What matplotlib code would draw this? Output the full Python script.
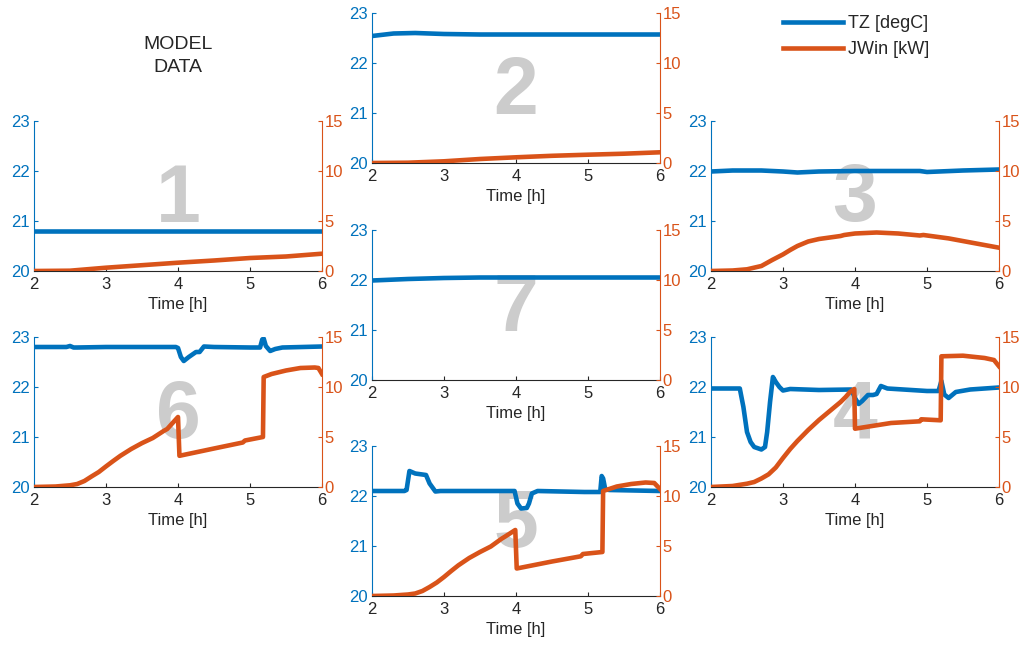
import matplotlib
matplotlib.use("Agg")
import matplotlib.pyplot as plt

plt.rcParams['font.family'] = ['Liberation Sans', 'DejaVu Sans']

BLUE = '#0072BD'
ORANGE = '#D95319'
DARK = '#262626'

# zone 1
t_tz1 = [2.0, 6.0]
tz1 = [20.8, 20.8]
t_jw1 = [2.0, 2.5, 3.0, 3.5, 4.0, 4.5, 5.0, 5.5, 6.0]
jw1 = [0.0, 0.03, 0.33, 0.58, 0.83, 1.05, 1.3, 1.45, 1.73]

# zone 2
t_tz2 = [2.0, 2.3, 2.6, 3.0, 3.5, 4.0, 5.0, 6.0]
tz2 = [22.54, 22.59, 22.6, 22.58, 22.57, 22.57, 22.57, 22.57]
t_jw2 = [2.0, 2.5, 3.0, 3.5, 4.0, 4.5, 5.0, 5.5, 6.0]
jw2 = [0.0, 0.03, 0.17, 0.4, 0.57, 0.72, 0.83, 0.93, 1.07]

# zone 3
t_tz3 = [2.0, 2.3, 2.7, 3.0, 3.2, 3.5, 4.0, 4.5, 4.9, 5.0, 5.5, 6.0]
tz3 = [21.99, 22.01, 22.01, 21.99, 21.97, 21.99, 22.0, 22.0, 22.0, 21.98, 22.01, 22.03]
t_jw3 = [2.0, 2.3, 2.5, 2.7, 2.85, 3.0, 3.1, 3.2, 3.35, 3.5, 3.8, 3.85,
         4.0, 4.3, 4.6, 4.9, 4.95, 5.3, 5.6, 6.0]
jw3 = [0.0, 0.05, 0.17, 0.5, 1.1, 1.66, 2.1, 2.5, 2.95, 3.2, 3.5, 3.6,
       3.75, 3.85, 3.75, 3.55, 3.6, 3.26, 2.86, 2.33]

# zone 4
t_tz4 = [2.0, 2.4, 2.45, 2.5, 2.55, 2.6, 2.7, 2.75, 2.78, 2.82, 2.86, 2.9,
         2.95, 3.0, 3.1, 3.5, 3.95, 4.0, 4.05, 4.1, 4.18, 4.25, 4.3, 4.36,
         4.45, 5.0, 5.16, 5.2, 5.24, 5.3, 5.4, 5.6, 6.0]
tz4 = [21.97, 21.97, 21.6, 21.1, 20.9, 20.8, 20.75, 20.8, 21.1, 21.7, 22.2, 22.1,
       22.0, 21.93, 21.96, 21.94, 21.95, 21.78, 21.66, 21.72, 21.84, 21.84, 21.86, 22.02,
       21.97, 21.92, 21.92, 22.12, 21.85, 21.78, 21.9, 21.95, 21.99]
t_jw4 = [2.0, 2.3, 2.5, 2.6, 2.7, 2.8, 2.9, 3.0, 3.1, 3.2, 3.35, 3.5, 3.65,
         3.8, 3.87, 3.93, 3.99, 4.0, 4.5, 4.9, 4.92, 5.19, 5.2, 5.5, 5.8, 5.93, 6.0]
jw4 = [0.0, 0.1, 0.33, 0.5, 0.85, 1.27, 1.95, 2.9, 3.8, 4.6, 5.7, 6.7, 7.6,
       8.5, 9.0, 9.5, 9.8, 5.83, 6.4, 6.57, 6.77, 6.67, 13.07, 13.13, 12.9, 12.7, 12.07]

# zone 5
t_tz5 = [2.0, 2.45, 2.48, 2.52, 2.6, 2.75, 2.8, 2.88, 2.95, 3.5, 3.98, 4.02,
         4.07, 4.15, 4.18, 4.22, 4.3, 4.95, 5.17, 5.19, 5.21, 5.24, 5.3, 6.0]
tz5 = [22.1, 22.1, 22.12, 22.5, 22.45, 22.42, 22.25, 22.09, 22.1, 22.1, 22.1, 21.85,
       21.75, 21.76, 21.85, 22.05, 22.1, 22.08, 22.08, 22.4, 22.35, 22.13, 22.12, 22.1]
t_jw5 = [2.0, 2.3, 2.5, 2.6, 2.7, 2.8, 2.9, 3.0, 3.1, 3.2, 3.35, 3.5, 3.65,
         3.8, 3.85, 3.99, 4.01, 4.5, 4.9, 4.93, 5.2, 5.21, 5.4, 5.6, 5.8, 5.92, 6.0]
jw5 = [0.0, 0.05, 0.15, 0.25, 0.5, 0.9, 1.35, 1.9, 2.5, 3.07, 3.8, 4.4, 4.95,
       5.73, 5.95, 6.6, 2.75, 3.45, 3.97, 4.2, 4.4, 10.5, 10.95, 11.2, 11.35, 11.3, 10.7]

# zone 6
t_tz6 = [2.0, 2.45, 2.5, 2.55, 2.6, 3.0, 3.5, 3.97, 4.0, 4.04, 4.08, 4.15, 4.25,
         4.3, 4.36, 4.5, 5.0, 5.14, 5.17, 5.19, 5.22, 5.28, 5.35, 5.45, 6.0]
tz6 = [22.8, 22.8, 22.82, 22.79, 22.79, 22.8, 22.8, 22.8, 22.78, 22.6, 22.52, 22.6, 22.7,
       22.7, 22.81, 22.8, 22.79, 22.79, 22.95, 22.97, 22.82, 22.72, 22.76, 22.79, 22.81]
t_jw6 = [2.0, 2.3, 2.5, 2.6, 2.7, 2.8, 2.9, 3.0, 3.1, 3.2, 3.35, 3.5, 3.65, 3.8,
         3.85, 4.0, 4.02, 4.5, 4.9, 4.93, 5.18, 5.19, 5.3, 5.5, 5.7, 5.9, 5.95, 6.0]
jw6 = [0.0, 0.05, 0.17, 0.3, 0.6, 1.06, 1.5, 2.06, 2.6, 3.12, 3.8, 4.39, 4.9, 5.6,
       5.8, 7.0, 3.12, 3.85, 4.45, 4.65, 5.0, 11.0, 11.3, 11.65, 11.9, 11.95, 11.9, 11.3]

# zone 7 (no window load)
t_tz7 = [2.0, 2.5, 3.0, 3.5, 4.0, 6.0]
tz7 = [21.99, 22.02, 22.04, 22.05, 22.05, 22.05]

x_ticks = [2, 3, 4, 5, 6]
tz_ticks = [20, 21, 22, 23]
jw_ticks = [0, 5, 10, 15]

# axes rectangles laid out like the floor plan, in pixels (left, top)
W, H = 1019, 645
AX_W, AX_H = 288, 150


def rect(left, top):
    return [left / W, 1 - (top + AX_H) / H, AX_W / W, AX_H / H]


def draw_zone(fig, r, label, t_tz, tz, t_jw=None, jw=None):
    ax = fig.add_axes(r)
    ax.set_xlim(2, 6)
    ax.set_ylim(20, 23)
    ax.set_xticks(x_ticks)
    ax.set_yticks(tz_ticks)
    ax.text(0.5, 0.47, label, transform=ax.transAxes, ha='center', va='center',
            fontsize=58, fontweight='bold', color='#CCCCCC', zorder=0)
    tz_line, = ax.plot(t_tz, tz, color=BLUE, lw=3.3, zorder=3)
    ax.set_xlabel('Time [h]', fontsize=12, color=DARK, labelpad=4)

    ax2 = ax.twinx()
    ax2.set_ylim(0, 15)
    ax2.set_yticks(jw_ticks)
    jw_line = None
    if t_jw is not None:
        jw_line, = ax2.plot(t_jw, jw, color=ORANGE, lw=3.3, zorder=3)

    for a in (ax, ax2):
        a.spines['top'].set_visible(False)
        a.patch.set_visible(False)
    ax.spines['right'].set_visible(False)
    ax2.spines['left'].set_visible(False)
    ax2.spines['bottom'].set_visible(False)
    ax.spines['left'].set_color(BLUE)
    ax.spines['bottom'].set_color(DARK)
    ax2.spines['right'].set_color(ORANGE)
    ax.tick_params(axis='x', direction='in', length=3, colors=DARK,
                   labelsize=12, pad=4)
    ax.tick_params(axis='y', direction='in', length=3, colors=BLUE,
                   labelsize=12, pad=3)
    ax2.tick_params(axis='y', direction='in', length=3, colors=ORANGE,
                    labelsize=12, pad=2)
    return tz_line, jw_line


fig = plt.figure(figsize=(W / 100, H / 100), dpi=100)

h_tz, h_jw = draw_zone(fig, rect(34, 121), '1', t_tz1, tz1, t_jw1, jw1)
draw_zone(fig, rect(372, 13), '2', t_tz2, tz2, t_jw2, jw2)
draw_zone(fig, rect(711, 121), '3', t_tz3, tz3, t_jw3, jw3)
draw_zone(fig, rect(372, 230), '7', t_tz7, tz7)
draw_zone(fig, rect(34, 337), '6', t_tz6, tz6, t_jw6, jw6)
draw_zone(fig, rect(711, 337), '4', t_tz4, tz4, t_jw4, jw4)
draw_zone(fig, rect(372, 446), '5', t_tz5, tz5, t_jw5, jw5)

fig.legend([h_tz, h_jw], ['TZ [degC]', 'JWin [kW]'], loc='upper left',
           bbox_to_anchor=(783 / W, 1 - 15 / H), frameon=False, fontsize=13,
           handlelength=3.3, handletextpad=0.3, labelspacing=0.5,
           borderpad=0, borderaxespad=0, labelcolor=DARK)

fig.text(178 / W, 1 - 56 / H, 'MODEL\nDATA', ha='center', va='center',
         fontsize=14, color=DARK, linespacing=1.42)

fig.savefig('out.png', dpi=100)
